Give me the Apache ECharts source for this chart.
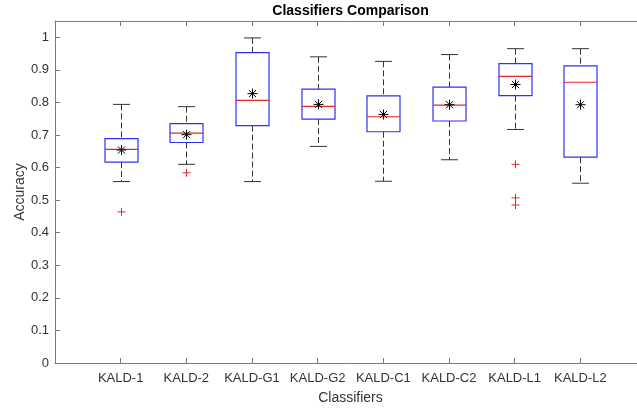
<!DOCTYPE html>
<html>
<head>
<meta charset="utf-8">
<script src="https://cdn.jsdelivr.net/npm/echarts@6/dist/echarts.min.js"></script>
<style>
  html, body { margin: 0; padding: 0; background: #fff; }
  #chart { width: 637px; height: 408px; }
</style>
</head>
<body>
<div id="chart"></div>
<script>
  // classifier names along the x axis
  var categories = ['KALD-1', 'KALD-2', 'KALD-G1', 'KALD-G2', 'KALD-C1', 'KALD-C2', 'KALD-L1', 'KALD-L2'];
  // box statistics
  var whiskerLow = [0.557, 0.610, 0.557, 0.665, 0.558, 0.624, 0.717, 0.552];
  var q1 = [0.617, 0.677, 0.729, 0.749, 0.710, 0.743, 0.821, 0.632];
  var medians = [0.656, 0.706, 0.806, 0.788, 0.756, 0.792, 0.880, 0.862];
  var q3 = [0.689, 0.735, 0.953, 0.841, 0.820, 0.847, 0.919, 0.912];
  var whiskerHigh = [0.794, 0.787, 0.998, 0.940, 0.926, 0.947, 0.965, 0.965];
  var means = [0.654, 0.701, 0.827, 0.794, 0.763, 0.793, 0.855, 0.793];
  // outliers: [category index (1-based), value]
  var outliers = [[1, 0.464], [2, 0.584], [7, 0.610], [7, 0.507], [7, 0.485]];
  var yTicks = [0, 0.1, 0.2, 0.3, 0.4, 0.5, 0.6, 0.7, 0.8, 0.9, 1];

  var positions = categories.map(function (c, i) { return i + 1; });
  var boxData = categories.map(function (c, i) {
    return [i + 1, whiskerLow[i], q1[i], medians[i], q3[i], whiskerHigh[i], means[i]];
  });

  var axisColor = '#7a7a7a';
  var textColor = '#333';
  var font = 'Liberation Sans, Arial, sans-serif';

  function renderBox(params, api) {
    var x = api.value(0);
    var p = function (v) { return api.coord([x, v]); };
    var lo = p(api.value(1)), b1 = p(api.value(2)), md = p(api.value(3));
    var b3 = p(api.value(4)), hi = p(api.value(5)), mn = p(api.value(6));
    var cx = Math.round(lo[0]) + 0.5;
    var hw = 16.5, cw = 8.5;
    var dash = { stroke: '#333', lineWidth: 1, lineDash: [6, 3] };
    var solid = { stroke: '#333', lineWidth: 1 };
    var star = { stroke: '#000', lineWidth: 1 };
    return {
      type: 'group',
      children: [
        { type: 'line', shape: { x1: cx, y1: hi[1], x2: cx, y2: b3[1] }, style: dash },
        { type: 'line', shape: { x1: cx, y1: b1[1], x2: cx, y2: lo[1] }, style: dash },
        { type: 'line', shape: { x1: cx - cw, y1: hi[1], x2: cx + cw, y2: hi[1] }, style: solid },
        { type: 'line', shape: { x1: cx - cw, y1: lo[1], x2: cx + cw, y2: lo[1] }, style: solid },
        { type: 'rect', shape: { x: cx - hw, y: b3[1], width: hw * 2, height: b1[1] - b3[1] },
          style: { fill: 'none', stroke: '#3030f5', lineWidth: 1.2 } },
        { type: 'line', shape: { x1: cx - hw, y1: md[1], x2: cx + hw, y2: md[1] },
          style: { stroke: '#e8262a', lineWidth: 1.2 } },
        { type: 'line', shape: { x1: cx - 5, y1: mn[1], x2: cx + 5, y2: mn[1] }, style: star },
        { type: 'line', shape: { x1: cx, y1: mn[1] - 5, x2: cx, y2: mn[1] + 5 }, style: star },
        { type: 'line', shape: { x1: cx - 3.6, y1: mn[1] - 3.6, x2: cx + 3.6, y2: mn[1] + 3.6 }, style: star },
        { type: 'line', shape: { x1: cx - 3.6, y1: mn[1] + 3.6, x2: cx + 3.6, y2: mn[1] - 3.6 }, style: star }
      ]
    };
  }

  function renderOutlier(params, api) {
    var pt = api.coord([api.value(0), api.value(1)]);
    var cx = Math.round(pt[0]) + 0.5, cy = pt[1];
    var st = { stroke: '#e8262a', lineWidth: 1 };
    return {
      type: 'group',
      children: [
        { type: 'line', shape: { x1: cx - 4, y1: cy, x2: cx + 4, y2: cy }, style: st },
        { type: 'line', shape: { x1: cx, y1: cy - 4, x2: cx, y2: cy + 4 }, style: st }
      ]
    };
  }

  var chart = echarts.init(document.getElementById('chart'));
  chart.setOption({
    animation: false,
    backgroundColor: '#fff',
    grid: { left: 55, top: 21, width: 591, height: 342, outerBoundsMode: 'none', containLabel: false },
    xAxis: [
      {
        type: 'value', min: 0, max: 9, interval: 1, position: 'bottom',
        name: 'Classifiers', nameLocation: 'middle', nameGap: 28, nameMoveOverlap: false,
        nameTextStyle: { color: textColor, fontSize: 14, fontFamily: font },
        axisLine: { lineStyle: { color: axisColor } },
        axisTick: { inside: true, length: 5, customValues: positions, lineStyle: { color: axisColor } },
        axisLabel: {
          customValues: positions, margin: 9, color: textColor, fontSize: 13, fontFamily: font,
          formatter: function (v) { return categories[Math.round(v) - 1] || ''; }
        },
        splitLine: { show: false }
      },
      {
        type: 'value', min: 0, max: 9, interval: 1, position: 'top',
        name: 'Classifiers Comparison', nameLocation: 'middle', nameGap: 3, nameMoveOverlap: false,
        nameTextStyle: { color: '#000', fontSize: 14, fontWeight: 'bold', fontFamily: font },
        axisLine: { lineStyle: { color: axisColor } },
        axisTick: { inside: true, length: 5, customValues: positions, lineStyle: { color: axisColor } },
        axisLabel: { show: false },
        splitLine: { show: false }
      }
    ],
    yAxis: {
      type: 'value', min: 0, max: 1.05,
      name: 'Accuracy', nameLocation: 'middle', nameGap: 28, nameMoveOverlap: false,
      nameTextStyle: { color: textColor, fontSize: 14, fontFamily: font },
      axisLine: { show: true, lineStyle: { color: axisColor } },
      axisTick: { show: true, inside: true, length: 5, customValues: yTicks, lineStyle: { color: axisColor } },
      axisLabel: {
        customValues: yTicks, margin: 6, color: textColor, fontSize: 13, fontFamily: font,
        formatter: function (v) { return String(+v.toFixed(1)); }
      },
      splitLine: { show: false }
    },
    series: [
      { type: 'custom', renderItem: renderBox, data: boxData, xAxisIndex: 0, clip: false },
      { type: 'custom', renderItem: renderOutlier, data: outliers, xAxisIndex: 0, clip: false }
    ]
  });
</script>
</body>
</html>
